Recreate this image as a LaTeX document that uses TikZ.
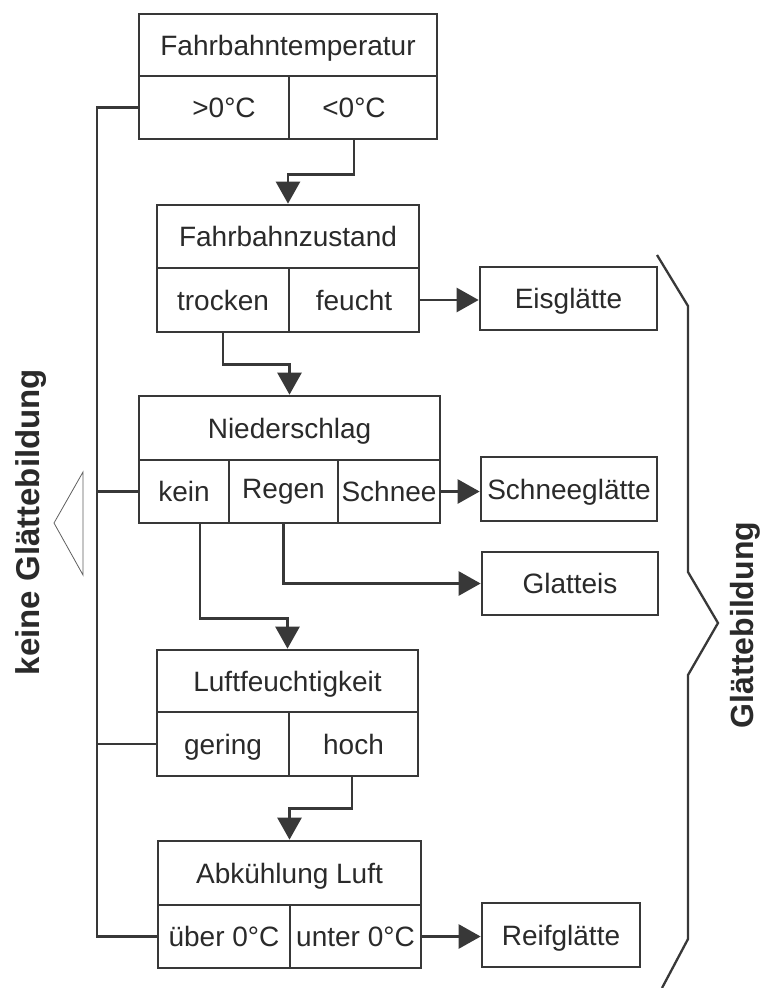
\documentclass[tikz,border=0pt]{standalone}
\usepackage{fontspec}
\setmainfont{Liberation Sans}
\usetikzlibrary{arrows.meta}
\definecolor{linec}{HTML}{383838}
\definecolor{textc}{HTML}{2A2A2A}
\begin{document}
\begin{tikzpicture}[x=1pt,y=-1pt,
  cell/.style={draw=linec, line width=2.7pt, inner sep=0pt, text=textc,
    text height=20pt, text depth=0pt,
    font=\fontsize{28}{32}\selectfont},
  conn/.style={draw=linec, line width=2.6pt},
  arr/.style={conn, -{Triangle[length=22pt,width=24pt]}},
  bracec/.style={draw=linec, line width=2.3pt, line join=miter},
  biglabel/.style={rotate=90, inner sep=0pt, text=textc}
]
\useasboundingbox[fill=white] (0,0) rectangle (764,988);

% Fahrbahntemperatur
\node[cell, minimum width=298pt, minimum height=62pt] (ft) at (288,45) {Fahrbahntemperatur};
\node[cell, minimum width=150pt, minimum height=63pt] (gt0) at (214,107.5) {\hspace*{20pt}>0°C};
\node[cell, minimum width=148pt, minimum height=63pt] (lt0) at (363,107.5) {<0°C\hspace*{18pt}};

% Fahrbahnzustand
\node[cell, minimum width=262pt, minimum height=63pt] (fz) at (288,236.5) {Fahrbahnzustand};
\node[cell, minimum width=132pt, minimum height=64pt] (trocken) at (223,300) {trocken};
\node[cell, minimum width=130pt, minimum height=64pt] (feucht) at (354,300) {feucht};

% Niederschlag
\node[cell, minimum width=301pt, minimum height=64pt] (ns) at (289.5,428) {Niederschlag};
\node[cell, minimum width=90pt, minimum height=63pt] (kein) at (184,491.5) {kein};
\node[cell, minimum width=109pt, minimum height=63pt] (regen) at (283.5,491.5) {\raisebox{3pt}{Regen}};
\node[cell, minimum width=102pt, minimum height=63pt] (schnee) at (389,491.5) {Schnee};

% Luftfeuchtigkeit
\node[cell, minimum width=261pt, minimum height=62pt] (lf) at (287.5,681) {Luftfeuchtigkeit};
\node[cell, minimum width=132pt, minimum height=64pt] (gering) at (223,744) {gering};
\node[cell, minimum width=129pt, minimum height=64pt] (hoch) at (353.5,744) {hoch};

% Abkuehlung Luft
\node[cell, minimum width=263pt, minimum height=64pt] (ak) at (289.5,873) {Abkühlung Luft};
\node[cell, minimum width=132pt, minimum height=63pt] (ueber) at (224,936.5) {über 0°C};
\node[cell, minimum width=131pt, minimum height=63pt] (unter) at (355.5,936.5) {unter 0°C};

% results
\node[cell, minimum width=177pt, minimum height=63pt] (eis) at (568.5,298.5) {Eisglätte};
\node[cell, minimum width=176pt, minimum height=64pt] (sg) at (569,489) {Schneeglätte};
\node[cell, minimum width=176pt, minimum height=63pt] (gl) at (570,583.5) {Glatteis};
\node[cell, minimum width=158pt, minimum height=64pt] (rf) at (561,935) {Reifglätte};

% left spine
\coordinate (sp1) at (97,107.5);
\coordinate (sp2) at (97,936.5);
\draw[conn] (gt0.west) -- (sp1) -- (sp2) -- (ueber.west);
\draw[conn] (kein.west) -- (kein.west -| sp1);
\draw[conn] (gering.west) -- (gering.west -| sp1);

% flow arrows
\draw[arr] ([xshift=-9pt]lt0.south) -- ++(0,34) -| (fz.north);
\draw[arr] (trocken.south) -- ++(0,31) -| (ns.north);
\draw[arr] (feucht.east) -- (feucht.east -| eis.west);
\draw[arr] (schnee.east) -- (schnee.east -| sg.west);
\draw[arr] ([xshift=16pt]kein.south) -- ++(0,94) -| (lf.north);
\draw[arr] (regen.south) |- (gl.west);
\draw[arr] ([xshift=-1.5pt]hoch.south) -- ++(0,31) -| (ak.north);
\draw[arr] (unter.east) -- (unter.east -| rf.west);

% left triangle
\draw[draw=linec!80, line width=0.8pt] (83,472) -- (54,523) -- (83,575) -- cycle;

% right brace
\draw[bracec] (657,255) -- (688,306) -- (688,572) -- (718,623) -- (688,675) -- (688,939) -- (662,988);

% side labels
\node[biglabel, font=\bfseries\fontsize{33}{36}\selectfont] (keine) at (31,522) {keine Glättebildung};
\node[biglabel, font=\bfseries\fontsize{32}{36}\selectfont] (glaett) at (745,625) {Glättebildung};
\end{tikzpicture}
\end{document}
